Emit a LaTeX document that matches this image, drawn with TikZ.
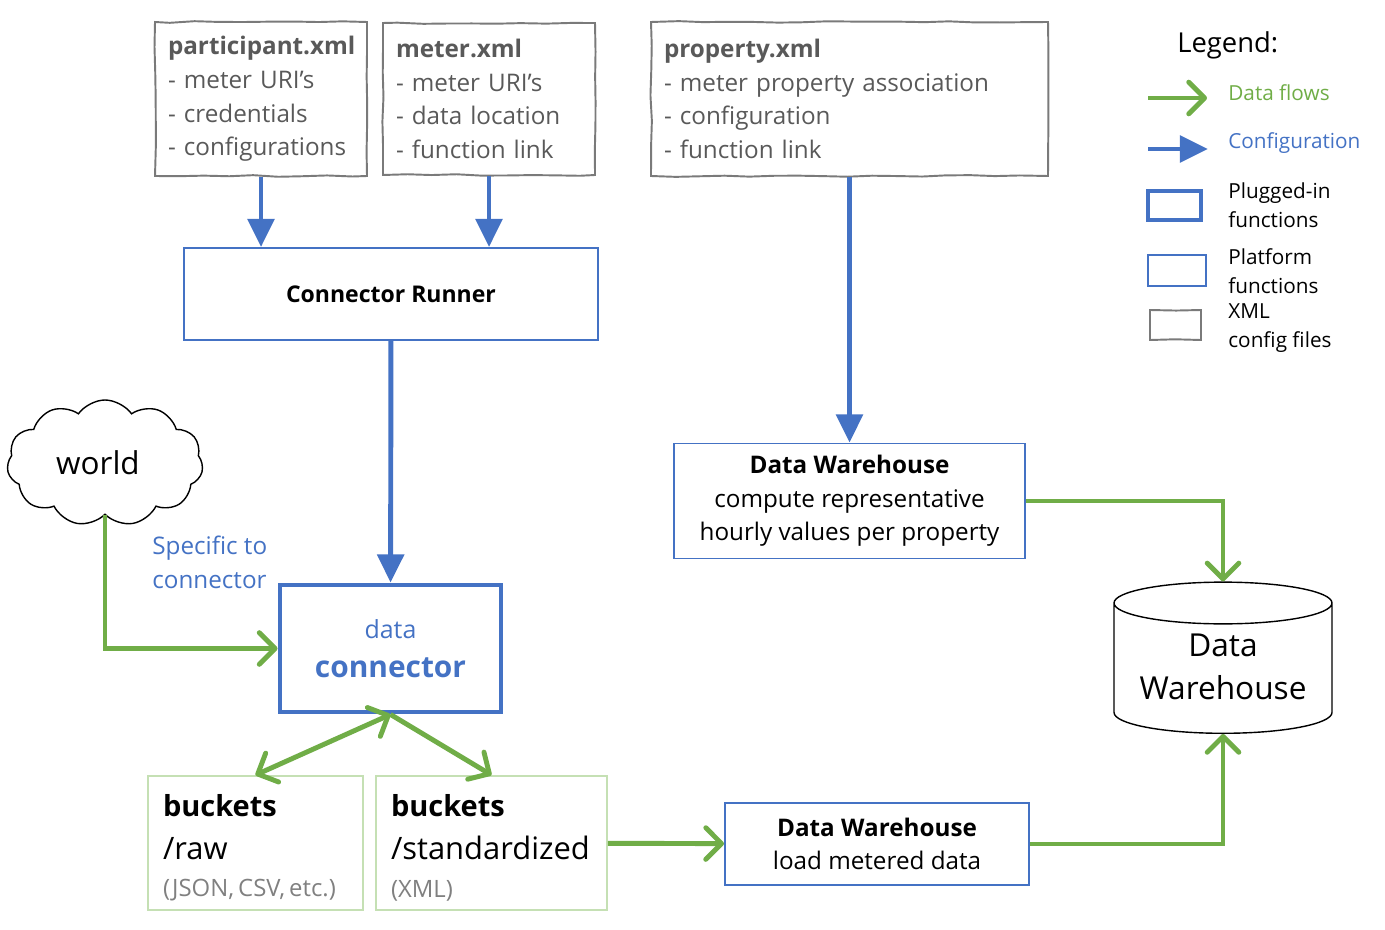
\documentclass[tikz,border=0pt]{standalone}
\usepackage{fontspec}
\setmainfont{Open Sans}
\usetikzlibrary{positioning,arrows.meta,shapes.geometric,shapes.symbols,decorations.pathmorphing}

\definecolor{cfgblue}{HTML}{4472C4}
\definecolor{flowgreen}{HTML}{70AD47}
\definecolor{bucketgreen}{HTML}{C5E0B4}
\definecolor{xmlgray}{HTML}{595959}
\definecolor{notegray}{HTML}{808080}
\def\px{0.02cm}

\tikzset{
  xmlbox/.style={draw=xmlgray!80, line width=1.1pt, decorate,
    decoration={random steps, segment length=14pt, amplitude=0.5pt},
    text=xmlgray, align=left, inner sep=0pt,
    font=\fontsize{13.8}{19.1}\selectfont},
  platform/.style={draw=cfgblue, line width=1.1pt, align=center, inner sep=0pt,
    font=\fontsize{13.8}{19}\selectfont},
  plugged/.style={draw=cfgblue, line width=2.8pt, align=center, inner sep=0pt},
  bucket/.style={draw=bucketgreen, line width=1.1pt, align=left, inner sep=0pt, text height=18pt,
    font=\fontsize{17.6}{24.4}\selectfont},
  cfgarrow/.style={draw=cfgblue, line width=2.8pt, -{Triangle[length=16pt,width=15pt]}},
  flowarrow/.style={draw=flowgreen, line width=2.8pt, -{Straight Barb[length=9pt,width=18pt,round]}},
  legtext/.style={anchor=west, align=left, inner sep=0pt, font=\fontsize{11.8}{16.5}\selectfont}
}

\begin{document}
\begin{tikzpicture}[x=\px, y=-\px]
\useasboundingbox (0,0) rectangle (1385,929);

% xml config files
\node[xmlbox, minimum width=212*\px, minimum height=154*\px, text width=186*\px] (participant) at (261,99)
  {\textbf{participant.xml}\\- meter URI’s\\- credentials\\- configurations};
\node[xmlbox, minimum width=212*\px, minimum height=152*\px, text width=186*\px] (meter) at (489,99)
  {\textbf{meter.xml}\\- meter URI’s\\- data location\\- function link};
\node[xmlbox, minimum width=397*\px, minimum height=154*\px, text width=371*\px] (property) at (849.5,99)
  {\textbf{property.xml}\\- meter property association\\- configuration\\- function link};

% platform and plugged-in functions
\node[platform, minimum width=414*\px, minimum height=92*\px, font=\fontsize{13.1}{19}\selectfont] (runner) at (391,294)
  {\textbf{Connector Runner}};
\node[platform, minimum width=351*\px, minimum height=115*\px] (compute) at (849.5,501)
  {\textbf{Data Warehouse}\\compute representative\\hourly values per property};
\node[platform, minimum width=304*\px, minimum height=82*\px] (load) at (877,844)
  {\textbf{Data Warehouse}\\load metered data};
\node[plugged, minimum width=221*\px, minimum height=127*\px, text=cfgblue, font=\fontsize{14.2}{22}\selectfont] (connector) at (390.5,648.5)
  {data\\{\fontsize{17}{22}\selectfont\bfseries connector}};

\node[cloud, draw, thick, cloud puffs=11, cloud puff arc=110, aspect=1.6, minimum width=196*\px, minimum height=126*\px,
  inner sep=0pt, font=\fontsize{17.9}{20}\selectfont] (world) at (105,463) {\hspace*{-8pt}world};
\node[anchor=north west, align=left, text=cfgblue, inner sep=0pt, font=\fontsize{13.8}{19.1}\selectfont] (specific) at (152,536)
  {Specific to\\connector};

% buckets
\node[bucket, minimum width=215*\px, minimum height=134*\px, text width=185*\px] (raw) at (255.5,843)
  {{\fontsize{16.5}{24.4}\selectfont\bfseries buckets}\\/raw\\[-3pt]{\fontsize{13.6}{21}\selectfont\color{notegray}\mbox{(JSON,\,CSV,\,etc.)}}};
\node[bucket, minimum width=231*\px, minimum height=134*\px, text width=201*\px] (standard) at (491.5,843)
  {{\fontsize{16.5}{24.4}\selectfont\bfseries buckets}\\/standardized\\[-3pt]{\fontsize{13.6}{21}\selectfont\color{notegray}(XML)}};

\node[cylinder, draw, thick, shape border rotate=90, aspect=0.25, minimum width=218*\px, minimum height=123*\px,
  inner sep=0pt, font=\fontsize{18}{24.4}\selectfont] (warehouse) at (1223,668.5)
  {\raisebox{-5pt}[25pt][25pt]{\begin{tabular}{@{}c@{}}Data\\Warehouse\end{tabular}}};

% configuration
\draw[cfgarrow] (participant) -- (participant |- runner.north);
\draw[cfgarrow] (meter) -- (meter |- runner.north);
\draw[cfgarrow] (runner) -- (connector);
\draw[cfgarrow] (property) -- (compute);

% data flows
\draw[flowarrow] (world.south) |- (connector.west);
\draw[flowarrow, {Straight Barb[length=9pt,width=18pt,round]}-{Straight Barb[length=9pt,width=18pt,round]}] (connector.south) -- (raw.north);
\draw[flowarrow] (connector.south) -- (standard.north);
\draw[flowarrow] (standard) -- (load);
\draw[flowarrow] (load) -| (warehouse.south);
\draw[flowarrow] (compute) -| (warehouse.north);

% legend
\node[anchor=west, inner sep=0pt, font=\fontsize{15.6}{18}\selectfont] (legtitle) at (1177,45) {Legend:};
\coordinate (flowA) at (1148,98);
\coordinate (flowB) at (1207,98);
\draw[flowarrow] (flowA) -- (flowB);
\node[legtext, text=flowgreen] (flowtext) at (1228,93) {Data flows};
\coordinate (cfgA) at (1148,149);
\coordinate (cfgB) at (1208,149);
\draw[cfgarrow] (cfgA) -- (cfgB);
\node[legtext, text=cfgblue] (cfgtext) at (1228,143) {Configuration};
\node[plugged, minimum width=53*\px, minimum height=29*\px] (plugkey) at (1174.5,205.5) {};
\node[legtext] (plugtext) at (1228,205) {Plugged-in\\functions};
\node[draw=cfgblue, line width=1.1pt, minimum width=58*\px, minimum height=31*\px, inner sep=0pt] (platkey) at (1177,270.5) {};
\node[legtext] (plattext) at (1228,271) {Platform\\functions};
\node[xmlbox, minimum width=51*\px, minimum height=30*\px] (xmlkey) at (1175.5,325) {};
\node[legtext] (xmltext) at (1228,328) {XML\\config files};
\end{tikzpicture}
\end{document}
